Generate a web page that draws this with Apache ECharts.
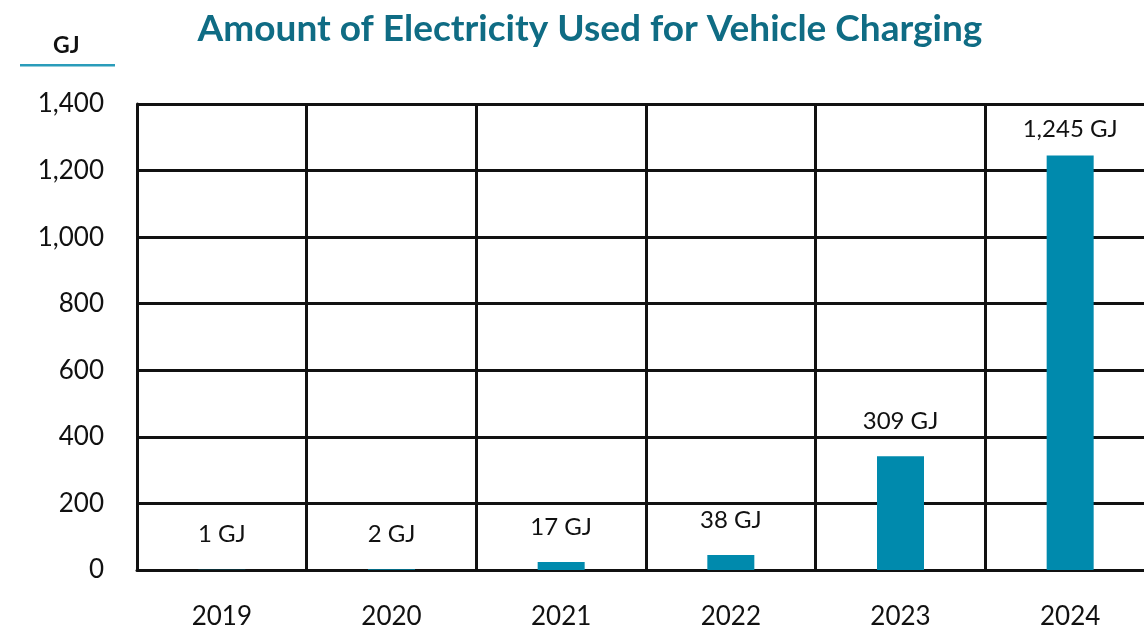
<!DOCTYPE html>
<html><head><meta charset="utf-8">
<script src="https://cdn.jsdelivr.net/npm/echarts@6/dist/echarts.min.js"></script>
<style>html,body{margin:0;padding:0;background:#fff;overflow:hidden;width:1144px;height:636px}#c{width:1170px;height:636px}</style>
</head><body><div id="c"></div>
<script>
const categories = ['2019', '2020', '2021', '2022', '2023', '2024'];
const values = [1, 2, 24, 45, 342, 1245];
const valueLabels = ['1 GJ', '2 GJ', '17 GJ', '38 GJ', '309 GJ', '1,245 GJ'];
const yTicks = { min: 0, max: 1400, interval: 200 };
const titleText = 'Amount of Electricity Used for Vehicle Charging';
const unitText = 'GJ';

const FONT = 'Lato';
const chart = echarts.init(document.getElementById('c'), null, { renderer: 'canvas' });
chart.setOption({
  animation: false,
  backgroundColor: '#fff',
  title: {
    text: titleText, left: 585, top: 6, textAlign: 'center',
    textStyle: { fontFamily: FONT, fontSize: 37, fontWeight: 'bold', color: '#0F6C84' }
  },
  graphic: [
    { type: 'text', left: 53, top: 34, style: { text: unitText, font: 'bold 23px Lato', fill: '#111' } },
    { type: 'rect', shape: { x: 20, y: 64, width: 95, height: 2.5 }, style: { fill: '#2A9CBA' } }
  ],
  grid: { left: 137, top: 104, width: 1018, height: 466, containLabel: false },
  xAxis: {
    type: 'category', data: categories, boundaryGap: true,
    axisLine: { show: true, lineStyle: { color: '#111', width: 3 } },
    axisTick: { show: false },
    splitLine: { show: true, lineStyle: { color: '#111', width: 3 } },
    axisLabel: { fontFamily: FONT, fontSize: 26, color: '#111', margin: 34 }
  },
  yAxis: {
    type: 'value', min: yTicks.min, max: yTicks.max, interval: yTicks.interval,
    axisLine: { show: true, lineStyle: { color: '#111', width: 3 } },
    axisTick: { show: false },
    splitLine: { show: true, lineStyle: { color: '#111', width: 3 } },
    axisLabel: {
      fontFamily: FONT, fontSize: 26, color: '#111', margin: 33,
      formatter: v => v.toLocaleString('en-US'), padding: [0, 0, 8, 0]
    }
  },
  series: [{
    type: 'bar', barWidth: 47,
    data: values.map((v, i) => ({
      value: v,
      label: { formatter: valueLabels[i], distance: i === values.length - 1 ? 14 : 23 }
    })),
    itemStyle: { color: '#008AAD' },
    label: { show: true, position: 'top', distance: 23, fontFamily: FONT, fontSize: 24, color: '#111' }
  }]
});
</script></body></html>
